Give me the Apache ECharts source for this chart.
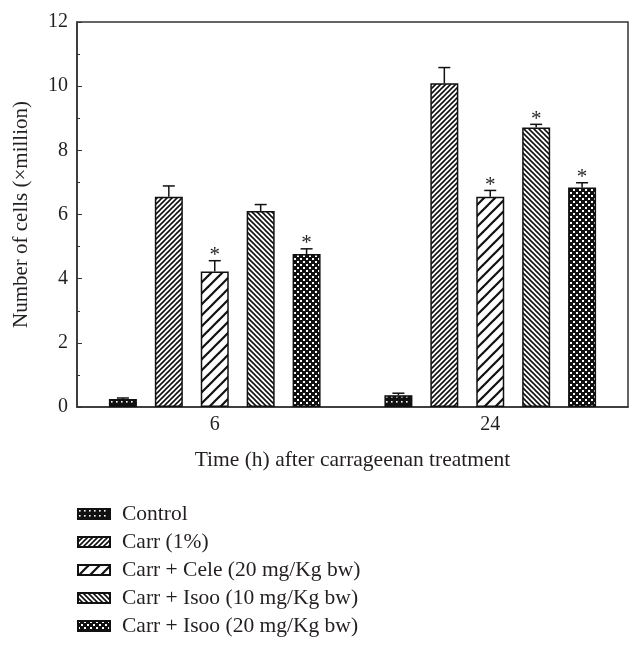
<!DOCTYPE html>
<html><head><meta charset="utf-8">
<script src="https://cdn.jsdelivr.net/npm/echarts@6/dist/echarts.min.js"></script>
<style>html,body{margin:0;padding:0;background:#fff}#c{width:643px;height:651px}</style>
</head><body><div id="c"></div>
<script>
// ---- data ----
const categories = ['6', '24'];
const seriesNames = ['Control', 'Carr (1%)', 'Carr + Cele (20 mg/Kg bw)', 'Carr + Isoo (10 mg/Kg bw)', 'Carr + Isoo (20 mg/Kg bw)'];
const controlVals = [0.25, 0.37];
const carrVals = [6.55, 10.09];
const celeVals = [4.22, 6.55];
const isoo10Vals = [6.11, 8.71];
const isoo20Vals = [4.77, 6.84];
const controlErr = [0.03, 0.06];
const carrErr = [0.34, 0.49];
const celeErr = [0.34, 0.20];
const isoo10Err = [0.20, 0.10];
const isoo20Err = [0.16, 0.15];
const controlStar = [0, 0];
const carrStar = [0, 0];
const celeStar = [1, 1];
const isoo10Star = [0, 1];
const isoo20Star = [1, 1];
const yMin = 0, yMax = 12, yInterval = 2;
const xTitle = 'Time (h) after carrageenan treatment';
const yTitle = 'Number of cells (\u00d7million)';

// ---- styles ----
const FONT = '"Liberation Serif", "DejaVu Serif", serif';
const INK = '#231f20';
const BAR_W = 28, GAP_RATIO = 0.64;

function makeTile(w, h, draw) {
  const c = document.createElement('canvas');
  c.width = w; c.height = h;
  const g = c.getContext('2d');
  draw(g, w, h);
  return c;
}
function diag(p, lw, forward) {
  return makeTile(p, p, (g) => {
    g.fillStyle = '#fff'; g.fillRect(0, 0, p, p);
    g.strokeStyle = '#111'; g.lineWidth = lw; g.lineCap = 'square';
    for (let k = -1; k <= 1; k++) {
      g.beginPath();
      if (forward) { g.moveTo(k * p, p); g.lineTo(k * p + p, 0); }
      else { g.moveTo(k * p, 0); g.lineTo(k * p + p, p); }
      g.stroke();
    }
  });
}
function dots(p, s) {
  return makeTile(p, p, (g) => {
    g.fillStyle = '#111'; g.fillRect(0, 0, p, p);
    g.fillStyle = '#fff'; g.fillRect(Math.floor((p - s) / 2), Math.floor((p - s) / 2), s, s);
  });
}
function checker(p, s) {
  return makeTile(p, p, (g) => {
    g.fillStyle = '#111'; g.fillRect(0, 0, p, p);
    g.fillStyle = '#fff';
    g.fillRect(0, 0, s, s);
    g.fillRect(p / 2, p / 2, s, s);
  });
}
const patterns = [
  dots(5, 1.6),
  diag(5, 1.6, true),
  diag(11, 2.2, true),
  diag(5, 1.6, false),
  checker(6, 2)
];

const valsList = [controlVals, carrVals, celeVals, isoo10Vals, isoo20Vals];
const errList = [controlErr, carrErr, celeErr, isoo10Err, isoo20Err];
const starList = [controlStar, carrStar, celeStar, isoo10Star, isoo20Star];

const series = [];
seriesNames.forEach((name, i) => {
  series.push({
    name, type: 'bar', barWidth: BAR_W, barGap: (GAP_RATIO * 100) + '%',
    data: valsList[i],
    itemStyle: { color: { image: patterns[i], repeat: 'repeat' }, borderColor: '#111', borderWidth: 1.5 },
    emphasis: { disabled: true }, z: 2
  });
});
seriesNames.forEach((name, i) => {
  const offset = (i - 2) * BAR_W * (1 + GAP_RATIO);
  series.push({
    type: 'custom', name: name + ' err', z: 3, silent: true,
    data: categories.map((c, k) => [k, valsList[i][k], errList[i][k], starList[i][k]]),
    renderItem: (params, api) => {
      const cat = api.value(0), v = api.value(1), e = api.value(2), st = api.value(3);
      const b = api.coord([cat, v]);
      const t = api.coord([cat, v + e]);
      const x = b[0] + offset;
      const children = [
        { type: 'line', shape: { x1: x, y1: b[1], x2: x, y2: t[1] }, style: { stroke: '#111', lineWidth: 1.5 } },
        { type: 'line', shape: { x1: x - 6, y1: t[1], x2: x + 6, y2: t[1] }, style: { stroke: '#111', lineWidth: 1.5 } }
      ];
      if (st) {
        children.push({ type: 'text', style: { text: '*', x: x, y: t[1] - 5, align: 'center', verticalAlign: 'middle', font: '21px ' + FONT, fill: INK } });
      }
      return { type: 'group', children };
    }
  });
});

const chart = echarts.init(document.getElementById('c'), null, { renderer: 'canvas' });
chart.setOption({
  animation: false,
  backgroundColor: '#fff',
  textStyle: { fontFamily: FONT, color: INK },
  grid: { left: 77, right: 15, top: 22, bottom: 244, show: true, borderColor: '#333', borderWidth: 1.5, backgroundColor: 'transparent' },
  legend: {
    data: seriesNames, orient: 'vertical', left: 77, top: 503, padding: 0,
    itemWidth: 32, itemHeight: 10, itemGap: 6,
    icon: 'rect',
    textStyle: { fontFamily: FONT, fontSize: 21.5, color: INK, padding: [0, 0, 0, 7], lineHeight: 21 },
    selectedMode: false
  },
  xAxis: {
    type: 'category', data: categories,
    name: xTitle, nameLocation: 'middle', nameGap: 42,
    nameTextStyle: { fontFamily: FONT, fontSize: 21.5, color: INK },
    axisLine: { lineStyle: { color: '#333', width: 1.5 } },
    axisTick: { inside: true, length: 4, lineStyle: { color: '#333' } },
    axisLabel: { fontFamily: FONT, fontSize: 20, color: INK, margin: 8 }
  },
  yAxis: {
    type: 'value', min: yMin, max: yMax, interval: yInterval,
    name: yTitle, nameLocation: 'middle', nameGap: 45,
    nameTextStyle: { fontFamily: FONT, fontSize: 21, color: INK },
    axisLine: { show: true, lineStyle: { color: '#333', width: 1.5 } },
    axisTick: { show: true, inside: true, length: 5, lineStyle: { color: '#333' } },
    minorTick: { show: true, splitNumber: 2, length: 3, lineStyle: { color: '#333' } },
    splitLine: { show: false },
    axisLabel: { fontFamily: FONT, fontSize: 20, color: INK, margin: 9 }
  },
  series
});
</script>
</body></html>
